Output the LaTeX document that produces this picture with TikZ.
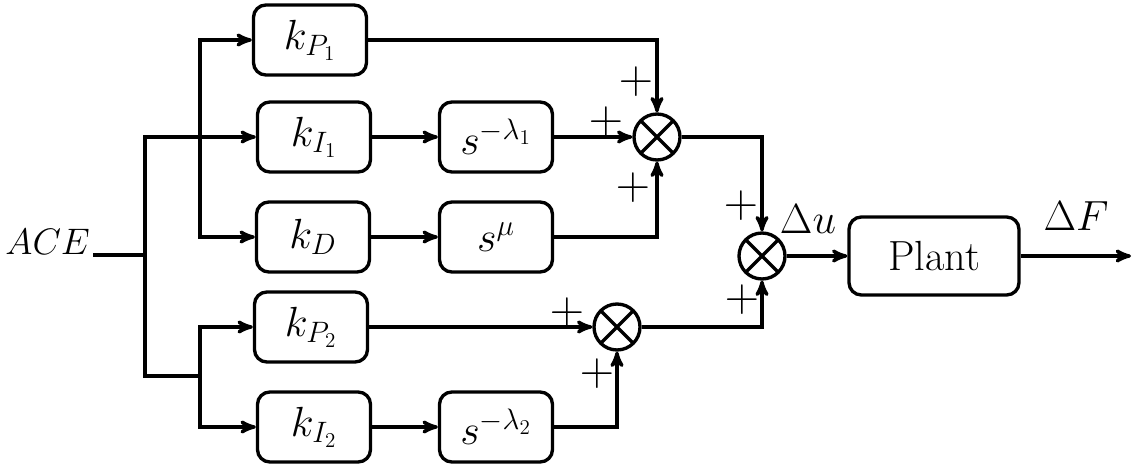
\documentclass[tikz,border=0pt]{standalone}
\usepackage{fix-cm}
\usepackage{amsmath}
\usetikzlibrary{arrows,positioning}

\begin{document}
\begin{tikzpicture}[->,>=stealth',line width=1.9pt,x=0.02cm,y=-0.02cm,
        font=\fontsize{24}{28}\selectfont,
        block/.style={draw,rounded corners=7pt,minimum width=2.26cm,minimum height=1.4cm},
        sign/.style={font=\fontsize{27}{31}\selectfont,inner sep=0pt},
        sum/.style={draw,circle,minimum size=0.92cm,inner sep=0pt,
          path picture={\draw[-] (path picture bounding box.north west) -- (path picture bounding box.south east)
                                 (path picture bounding box.north east) -- (path picture bounding box.south west);}}]

  \useasboundingbox (0,0) rectangle (1135,469);

  % input
  \node[anchor=base west,font=\fontsize{21}{25}\selectfont,inner sep=1pt] (ace) at (2,255) {$ACE$};
  \coordinate (split) at (145,255);
  \coordinate (fork1) at (200,137);
  \coordinate (fork2) at (200,376);

  % gains
  \node[block] (kP1) at (310,40) {$k_{P_1}$};
  \node[block] (kI1) at (314,137) {$k_{I_1}$};
  \node[block] (kD) at (313,237) {$k_D$};
  \node[block] (kP2) at (311,327) {$k_{P_2}$};
  \node[block] (kI2) at (314,427) {$k_{I_2}$};

  % fractional operators
  \node[block] (sl1) at (496,137) {$s^{-\lambda_1}$};
  \node[block] (smu) at (496,237) {$s^{\mu}$};
  \node[block] (sl2) at (496,427) {$s^{-\lambda_2}$};

  % summing junctions
  \node[sum] (sum1) at (657,137) {};
  \node[sum] (sum3) at (617,327) {};
  \node[sum] (sum2) at (762,256) {};

  \node[block,minimum width=3.4cm,minimum height=1.56cm] (plant) at (934,256) {Plant};
  \coordinate (out) at (1131,256);

  % signs and signals
  \node[sign] (p11) at (636,82) {$+$};
  \node[sign] (p12) at (606,122) {$+$};
  \node[sign] (p13) at (633,188) {$+$};
  \node[sign] (p21) at (741,206) {$+$};
  \node[sign] (p22) at (742,300) {$+$};
  \node[sign] (p31) at (567,313) {$+$};
  \node[sign] (p32) at (597,374) {$+$};
  \node (du) at (808,219) {$\Delta u$};
  \node (dF) at (1076,216) {$\Delta F$};

  \draw[-] (ace.base east) -- (split);
  \draw (split) |- (kI1);
  \draw[-] (split) |- (fork2);
  \draw (fork1) |- (kP1);
  \draw (fork1) |- (kD);
  \draw (fork2) |- (kP2);
  \draw (fork2) |- (kI2);

  \draw (kI1) -- (sl1);
  \draw (kD) -- (smu);
  \draw (kI2) -- (sl2);

  \draw (kP1) -| (sum1);
  \draw (sl1) -- (sum1);
  \draw (smu) -| (sum1);
  \draw (kP2) -- (sum3);
  \draw (sl2) -| (sum3);
  \draw (sum1) -| (sum2);
  \draw (sum3) -| (sum2);
  \draw (sum2) -- (plant);
  \draw (plant) -- (out);

\end{tikzpicture}
\end{document}
